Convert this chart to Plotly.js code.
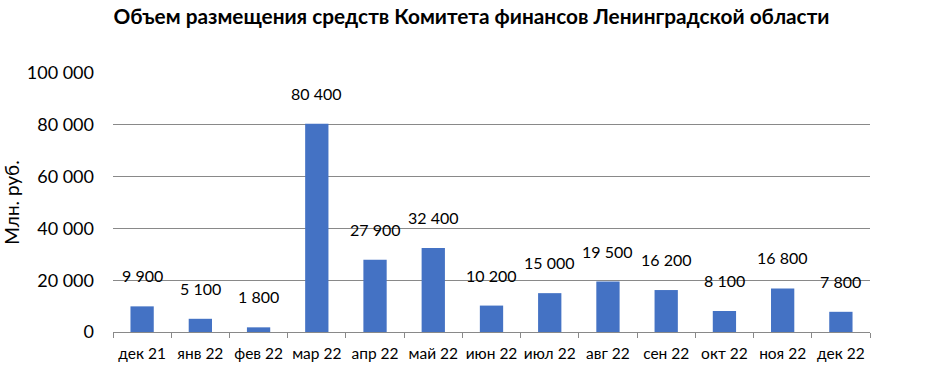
<!DOCTYPE html>
<html>
<head>
<meta charset="utf-8">
<script src="https://cdn.plot.ly/plotly-3.0.1.min.js"></script>
<style>body{margin:0;background:#fff}#chart{width:930px;height:377px}</style>
</head>
<body>
<div id="chart"></div>
<script>
const categories = ["дек 21","янв 22","фев 22","мар 22","апр 22","май 22","июн 22","июл 22","авг 22","сен 22","окт 22","ноя 22","дек 22"];
const values = [9900, 5100, 1800, 80400, 27900, 32400, 10200, 15000, 19500, 16200, 8100, 16800, 7800];
const titleText = "Объем размещения средств Комитета финансов Ленинградской области";
const yTitle = "Млн. руб.";

function fmt(v){ return String(v).replace(/\B(?=(\d{3})+(?!\d))/g, " "); }

const font = "Lato, 'Open Sans', sans-serif";
const annotations = categories.map((c,i)=>({
  x: c, y: values[i], xref:'x', yref:'y', text: fmt(values[i]),
  showarrow:false, yanchor:'bottom', yshift:19,
  font:{family:font, size:16, color:'#000'}
}));

Plotly.newPlot('chart', [{
  type:'bar', x: categories, y: values,
  marker:{color:'#4472C4'}, width:0.4, hoverinfo:'skip'
}], {
  width:930, height:377,
  margin:{l:113, r:60, t:73, b:45},
  paper_bgcolor:'#fff', plot_bgcolor:'#fff',
  separators:', ',
  showlegend:false,
  title:{text:'<b>'+titleText+'</b>', x:0.507, xanchor:'center', y:0.955, yanchor:'middle',
    font:{family:font, size:20.8, color:'#000'}},
  xaxis:{type:'category', showline:true, linecolor:'#898989', linewidth:1,
    ticks:'outside', tickson:'boundaries', ticklen:5, tickcolor:'#898989', tickangle:0,
    ticklabelstandoff:7,
    tickfont:{family:font, size:15.5, color:'#000'}, showgrid:false, fixedrange:true},
  yaxis:{range:[0,100000], dtick:20000, tickformat:',d', showgrid:true, gridcolor:'#898989', gridwidth:1,
    zeroline:false, showline:false, ticks:'', ticklabelstandoff:18,
    tickfont:{family:font, size:18, color:'#000'},
    title:{text:yTitle, font:{family:font, size:19, color:'#000'}, standoff:10}},
  annotations: annotations
}, {staticPlot:true});
</script>
</body>
</html>
